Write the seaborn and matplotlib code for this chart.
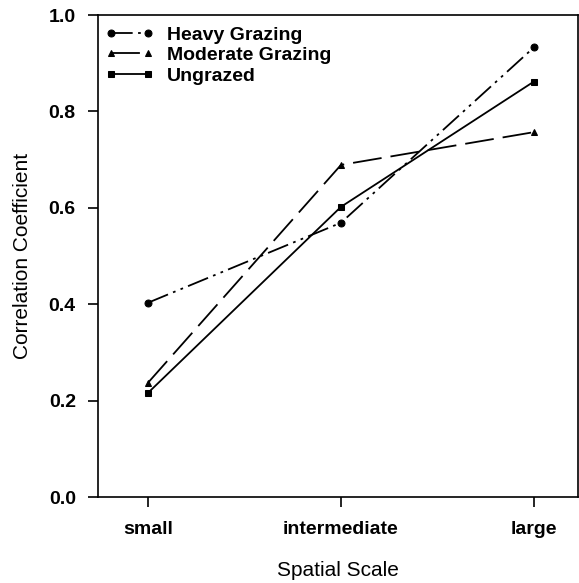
import matplotlib
matplotlib.use("Agg")
import matplotlib.pyplot as plt
import seaborn as sns
import pandas as pd

categories = ["small", "intermediate", "large"]
heavy = [0.403, 0.569, 0.933]
moderate = [0.237, 0.689, 0.757]
ungrazed = [0.216, 0.602, 0.862]
series_names = ["Heavy Grazing", "Moderate Grazing", "Ungrazed"]
y_ticks = [0.0, 0.2, 0.4, 0.6, 0.8, 1.0]

rows = []
for name, vals in zip(series_names, [heavy, moderate, ungrazed]):
    for i, v in enumerate(vals):
        rows.append({"pos": i, "value": v, "series": name})
df = pd.DataFrame(rows)

sns.set_theme(style="ticks")
plt.rcParams["font.family"] = ["Liberation Sans", "DejaVu Sans"]
plt.rcParams.update({"text.color": "black", "axes.labelcolor": "black",
                     "xtick.color": "black", "ytick.color": "black",
                     "axes.edgecolor": "black"})

fig = plt.figure(figsize=(5.79, 5.83), dpi=100)
ax = fig.add_axes([98/579, 1-497/583, 480/579, 482/583])

sns.lineplot(
    data=df, x="pos", y="value", hue="series", style="series",
    palette={n: "black" for n in series_names},
    dashes={"Heavy Grazing": (12, 3, 1.5, 3, 1.5, 3),
            "Moderate Grazing": (16, 5),
            "Ungrazed": ""},
    markers={"Heavy Grazing": "o", "Moderate Grazing": "^", "Ungrazed": "s"},
    markersize=5, markeredgecolor="black", linewidth=1.3, ax=ax,
)

ax.set_xlim(-0.259, 2.228)
ax.set_ylim(0, 1.0)
ax.set_xticks(range(len(categories)))
ax.set_xticklabels(categories, fontsize=14, fontweight="bold")
ax.set_yticks(y_ticks)
ax.set_yticklabels([f"{t:.1f}" for t in y_ticks], fontsize=14, fontweight="bold")
ax.tick_params(axis="both", direction="out", length=7.5, width=1.2,
               color="black", labelcolor="black")
ax.tick_params(axis="y", pad=8.5)
ax.tick_params(axis="x", pad=10)
for s in ax.spines.values():
    s.set_visible(True)
    s.set_color("black")
    s.set_linewidth(1.2)

ax.set_xlabel("Spatial Scale", fontsize=15, labelpad=16, color="black")
ax.set_ylabel("Correlation Coefficient", fontsize=15, labelpad=12, color="black")

leg = ax.legend(loc="upper left", frameon=False, numpoints=2,
                handlelength=2.5, handletextpad=0.7, labelspacing=0.15,
                borderaxespad=0, bbox_to_anchor=(-0.002, 0.993),
                prop={"weight": "bold", "size": 14})
for t in leg.get_texts():
    t.set_color("black")

fig.savefig("out.png", dpi=100)
